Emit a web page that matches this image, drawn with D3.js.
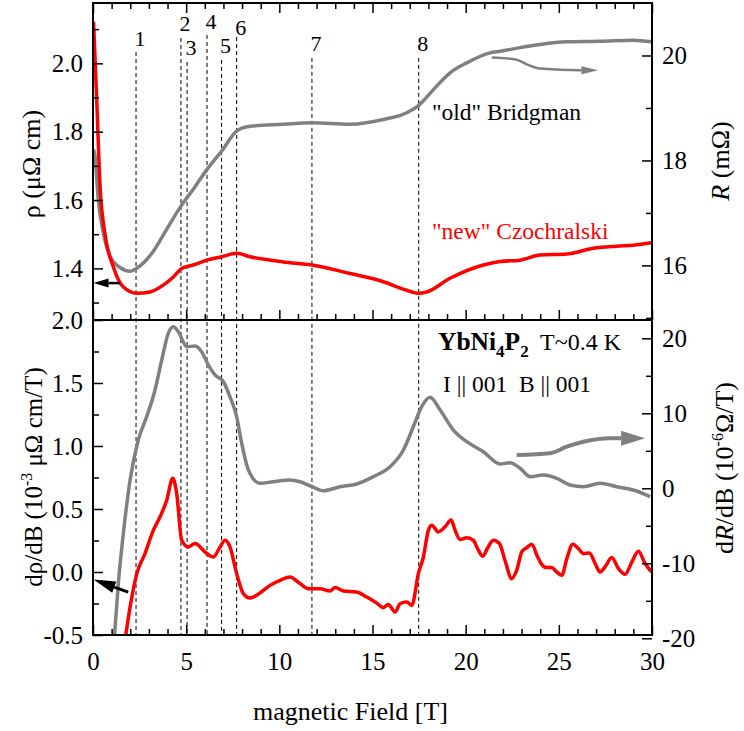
<!DOCTYPE html>
<html lang="en">
<head>
<meta charset="UTF-8">
<script src="https://cdn.jsdelivr.net/npm/d3@7"></script>
<title>YbNi4P2 resistivity vs field</title>
<style>
  body { margin: 0; background: #fff; }
  text { font-family: "Liberation Serif", "Times New Roman", serif; }
</style>
</head>
<body>
<script>
    // ---- data ----
    // top panel, "old" Bridgman sample, R (mOhm), right axis
    let oldTopB = [0.03, 0.11, 0.28, 0.55, 0.91, 1.45, 1.99, 2.52, 3.24, 3.96, 4.72, 5.38, 6.12, 6.91, 7.71, 8.43,
        10.21, 11.76, 13.8, 15.58, 16.84, 17.48, 18.27, 19.16, 20.06, 21.31, 21.85, 22.92, 23.99, 25.43, 27.21, 28.99, 29.99];
    let oldTopR = [18.21, 18.08, 17.26, 16.63, 16.18, 15.96, 15.89, 15.99, 16.27, 16.69, 17.13, 17.45, 17.83, 18.18, 18.56, 18.65,
        18.69, 18.72, 18.69, 18.78, 18.91, 19.05, 19.35, 19.67, 19.86, 20.05, 20.08, 20.15, 20.21, 20.26, 20.27, 20.29, 20.26];

    // top panel, "new" Czochralski sample, rho (uOhm cm), left axis
    let newTopB = [0.03, 0.2, 0.38, 0.64, 1.09, 1.62, 2.35, 3.06, 3.77, 4.31, 4.76, 5.38, 6.12, 6.91, 7.71, 8.43, 10.21,
        11.76, 13.8, 15.58, 16.84, 17.48, 17.91, 19.16, 20.95, 21.85, 22.92, 23.99, 25.43, 26.85, 28.11, 29.0, 29.99];
    let newTopRho = [2.121, 1.893, 1.639, 1.502, 1.405, 1.346, 1.327, 1.331, 1.351, 1.375, 1.4, 1.41, 1.424, 1.434, 1.444, 1.434, 1.419,
        1.41, 1.385, 1.361, 1.336, 1.327, 1.331, 1.371, 1.41, 1.42, 1.424, 1.439, 1.442, 1.459, 1.465, 1.468, 1.475];

    // bottom panel, dR/dB (1e-6 Ohm/T), right axis
    let oldBotB = [1.15, 1.36, 1.63, 1.99, 2.43, 2.88, 3.33, 3.69, 4.04, 4.31, 4.58, 5.03, 5.48, 5.83, 6.19, 6.55, 7.0, 7.35,
        7.71, 7.98, 8.34, 8.96, 9.68, 10.57, 11.11, 11.76, 12.36, 13.26, 14.15, 15.05, 15.94, 16.66, 17.19, 17.64, 18.09,
        18.63, 19.34, 20.06, 20.95, 21.85, 22.38, 22.92, 23.46, 24.17, 24.89, 25.6, 26.32, 27.21, 28.11, 29.0, 29.9];
    let oldBotV = [-19.8, -12.67, -6.0, 1.11, 6.44, 9.55, 13.11, 17.11, 20.67, 21.55, 20.88, 18.88, 18.97, 18.21, 16.44, 15.11, 14.21, 12.21,
        9.55, 6.0, 2.44, 0.67, 0.88, 1.11, 0.88, 0.21, -0.32, 0.21, 0.57, 1.55, 2.88, 5.11, 8.21, 10.88, 12.13,
        10.44, 7.77, 6.21, 4.88, 3.24, 3.41, 2.67, 1.55, 1.77, 1.33, 0.44, 0.21, 0.67, 0.21, -0.23, -1.12];

    // bottom panel, drho/dB (1e-3 uOhm cm/T), left axis
    let newBotB = [1.74, 1.99, 2.35, 2.79, 3.24, 3.6, 3.96, 4.28, 4.49, 4.76, 5.12, 5.48, 6.01, 6.46, 6.82, 7.09, 7.35, 7.71,
        8.07, 8.43, 8.96, 9.5, 10.04, 10.57, 11.11, 11.56, 12.18, 12.72, 12.99, 13.44, 14.15, 14.69, 15.23, 15.58, 15.85,
        16.21, 16.48, 16.84, 17.11, 17.46, 17.73, 18.0, 18.18, 18.53, 18.89, 19.22, 19.43, 19.7, 20.06, 20.41, 20.68,
        20.92, 21.16, 21.49, 21.81, 22.11, 22.47, 22.74, 23.01, 23.28, 23.55, 23.82, 24.08, 24.35, 24.62, 24.89, 25.16,
        25.43, 25.75, 26.05, 26.32, 26.64, 26.95, 27.21, 27.48, 27.84, 28.2, 28.56, 28.92, 29.27, 29.63, 29.9, 30.0];
    let newBotV = [-0.52, -0.279, -0.013, 0.146, 0.332, 0.438, 0.571, 0.744, 0.624, 0.252, 0.199, 0.226, 0.159, 0.119, 0.199, 0.252, 0.199, -0.013,
        -0.172, -0.207, -0.167, -0.106, -0.066, -0.04, -0.092, -0.132, -0.132, -0.151, -0.124, -0.151, -0.159, -0.199, -0.247, -0.283, -0.257,
        -0.318, -0.252, -0.239, -0.265, -0.013, 0.119, 0.332, 0.372, 0.318, 0.358, 0.412, 0.332, 0.258, 0.271, 0.252, 0.173,
        0.125, 0.186, 0.252, 0.226, 0.093, -0.053, 0.014, 0.159, 0.194, 0.221, 0.133, 0.061, 0.035, 0.035, 0.0, -0.026,
        0.107, 0.221, 0.186, 0.146, 0.151, 0.067, 0.0, 0.04, 0.115, 0.027, -0.018, 0.08, 0.165, 0.067, 0.014, 0.0];

    // transition fields marked by dashed lines
    let markerLabels = ["1", "2", "3", "4", "5", "6", "7", "8"];
    let markerB = [2.31, 4.72, 5.05, 6.12, 6.9, 7.71, 11.75, 17.48];
    let markerLabelRho = [2.051, 2.094, 2.024, 2.1, 2.03, 2.083, 2.036, 2.036];
    let markerTopRho = [2.033, 2.074, 2.004, 2.083, 2.01, 2.077, 2.016, 2.016];

    // ticks
    let xTicks = [0, 5, 10, 15, 20, 25, 30];
    let rhoTicks = [1.4, 1.6, 1.8, 2.0];
    let rhoMinor = [1.3, 1.5, 1.7, 1.9, 2.1];
    let rTicks = [16, 18, 20];
    let rMinor = [15, 17, 19];
    let dRhoTicks = [-0.5, 0.0, 0.5, 1.0, 1.5, 2.0];
    let dRhoMinor = [-0.25, 0.25, 0.75, 1.25, 1.75];
    let dRTicks = [-20, -10, 0, 10, 20];
    let dRMinor = [-15, -5, 5, 15];

    // ---- layout ----
    let W = 744, H = 731;
    let pLeft = 93, pRight = 652, pTop = 3, pMid = 320, pBottom = 635;
    let red = "#ff0000", gray = "#808080";

    let svg = d3.select("body").append("svg")
        .attr("width", W)
        .attr("height", H);

    let x = d3.scaleLinear().domain([0, 30]).range([pLeft, pRight]);
    let yRho = d3.scaleLinear().domain([1.249, 2.1765]).range([pMid, pTop]);
    let yR = d3.scaleLinear().domain([14.96, 21.0]).range([pMid, pTop]);
    let yDRho = d3.scaleLinear().domain([-0.5, 2.0]).range([pBottom, pMid]);
    let yDR = d3.scaleLinear().domain([-19.56, 22.44]).range([pBottom, pMid]);

    let xMinor = d3.range(0, 31).filter(d => d % 5 != 0);
    let fmt1 = d => d.toFixed(1);
    let fmt0 = d => String(d);

    // clip paths for both panels
    let defs = svg.append("defs");
    defs.append("clipPath").attr("id", "clipTop").append("rect")
        .attr("x", pLeft).attr("y", pTop).attr("width", pRight - pLeft).attr("height", pMid - pTop);
    defs.append("clipPath").attr("id", "clipBot").append("rect")
        .attr("x", pLeft).attr("y", pMid).attr("width", pRight - pLeft).attr("height", pBottom - pMid);

    // dashed marker lines
    markerB.forEach((b, i) => {
        svg.append("line")
            .attr("x1", x(b)).attr("x2", x(b))
            .attr("y1", yRho(markerTopRho[i])).attr("y2", pBottom)
            .attr("stroke", "#000")
            .attr("stroke-width", 1)
            .attr("stroke-dasharray", "4,3");
        svg.append("text")
            .attr("x", x(b) + 4)
            .attr("y", yRho(markerLabelRho[i]))
            .attr("text-anchor", "middle")
            .attr("font-size", 22)
            .text(markerLabels[i]);
    });

    // curves
    function drawCurve(xs, ys, yScale, color, clip) {
        let pts = xs.map((b, i) => [b, ys[i]]);
        let line = d3.line()
            .x(d => x(d[0]))
            .y(d => yScale(d[1]))
            .curve(d3.curveMonotoneX);
        svg.append("path")
            .datum(pts)
            .attr("clip-path", "url(#" + clip + ")")
            .attr("d", line)
            .attr("fill", "none")
            .attr("stroke", color)
            .attr("stroke-width", 3.5)
            .attr("stroke-linejoin", "round");
    }

    drawCurve(oldTopB, oldTopR, yR, gray, "clipTop");
    drawCurve(newTopB, newTopRho, yRho, red, "clipTop");
    drawCurve(oldBotB, oldBotV, yDR, gray, "clipBot");
    drawCurve(newBotB, newBotV, yDRho, red, "clipBot");

    // axes helper: major ticks + minor ticks, inward
    function addAxis(axisFn, scale, majors, minors, fmt, translate, showLabels, pad) {
        let g = svg.append("g").attr("transform", translate);
        g.call(axisFn(scale).tickValues(majors).tickSizeInner(-10).tickSizeOuter(0)
            .tickPadding(pad || 8)
            .tickFormat(showLabels ? fmt : ""));
        g.append("g").call(axisFn(scale).tickValues(minors).tickSizeInner(-6).tickSizeOuter(0).tickFormat(""));
        g.selectAll(".domain").remove();
        g.selectAll("line").attr("stroke", "#000").attr("stroke-width", 1.5);
        g.selectAll("text")
            .attr("font-size", 25)
            .attr("fill", "#000");
        return g;
    }

    // top panel axes
    addAxis(d3.axisTop, x, xTicks, xMinor, fmt0, "translate(0," + pTop + ")", false);
    addAxis(d3.axisBottom, x, xTicks, xMinor, fmt0, "translate(0," + pMid + ")", false);
    addAxis(d3.axisLeft, yRho, rhoTicks, rhoMinor, fmt1, "translate(" + pLeft + ",0)", true, 10);
    addAxis(d3.axisRight, yR, rTicks, rMinor, fmt0, "translate(" + pRight + ",0)", true, 10);

    // bottom panel axes
    addAxis(d3.axisBottom, x, xTicks, xMinor, fmt0, "translate(0," + pBottom + ")", true, 17);
    addAxis(d3.axisLeft, yDRho, dRhoTicks, dRhoMinor, fmt1, "translate(" + pLeft + ",0)", true, 10);
    addAxis(d3.axisRight, yDR, dRTicks, dRMinor, fmt0, "translate(" + pRight + ",0)", true, 10);

    // frames
    svg.append("rect")
        .attr("x", pLeft).attr("y", pTop).attr("width", pRight - pLeft).attr("height", pBottom - pTop)
        .attr("fill", "none").attr("stroke", "#000").attr("stroke-width", 2);
    svg.append("line")
        .attr("x1", pLeft).attr("x2", pRight).attr("y1", pMid).attr("y2", pMid)
        .attr("stroke", "#000").attr("stroke-width", 2);

    // arrows, given in data units of the axis they point to
    let arrowTopOldB = [21.4, 22.74, 23.28, 23.99, 26.14, 27.12];
    let arrowTopOldR = [19.96, 19.92, 19.83, 19.75, 19.72, 19.72];
    let arrowBotOldB = [22.74, 24.53, 25.43, 26.32, 27.75, 29.63];
    let arrowBotOldV = [4.44, 4.67, 5.55, 6.21, 6.67, 6.67];
    let arrowTopNewB = [1.45, 0.03];
    let arrowTopNewRho = [1.357, 1.357];
    let arrowBotNewB = [1.89, 0.03];
    let arrowBotNewV = [-0.16, -0.06];

    function drawArrow(xs, ys, yScale, color, width, headLen, headHalf) {
        let pts = xs.map((b, i) => [x(b), yScale(ys[i])]);
        let tip = pts[pts.length - 1];
        let prev = pts[pts.length - 2];
        let dx = tip[0] - prev[0], dy = tip[1] - prev[1];
        let len = Math.sqrt(dx * dx + dy * dy);
        let ux = dx / len, uy = dy / len;
        let base = [tip[0] - ux * headLen, tip[1] - uy * headLen];
        let shaft = pts.slice(0, pts.length - 1).concat([base]);
        svg.append("path")
            .datum(shaft)
            .attr("d", d3.line().curve(d3.curveMonotoneX))
            .attr("fill", "none")
            .attr("stroke", color)
            .attr("stroke-width", width);
        let p1 = [base[0] - uy * headHalf, base[1] + ux * headHalf];
        let p2 = [base[0] + uy * headHalf, base[1] - ux * headHalf];
        svg.append("path")
            .attr("d", "M" + tip + "L" + p1 + "L" + p2 + "Z")
            .attr("fill", color);
    }

    drawArrow(arrowTopOldB, arrowTopOldR, yR, gray, 2.5, 17, 4);
    drawArrow(arrowBotOldB, arrowBotOldV, yDR, gray, 4, 24, 7.5);
    drawArrow(arrowTopNewB, arrowTopNewRho, yRho, "#000", 2.5, 15, 4.5);
    drawArrow(arrowBotNewB, arrowBotNewV, yDRho, "#000", 3, 22, 6);

    // annotations
    svg.append("text")
        .attr("x", 432).attr("y", 120)
        .attr("font-size", 23.5)
        .text("\"old\" Bridgman");
    svg.append("text")
        .attr("x", 432).attr("y", 239)
        .attr("font-size", 23.5)
        .attr("fill", red)
        .text("\"new\" Czochralski");

    let formula = svg.append("text")
        .attr("x", 438).attr("y", 350)
        .attr("font-size", 25.5)
        .attr("font-weight", "bold");
    formula.append("tspan").text("YbNi");
    formula.append("tspan").attr("font-size", 17).attr("dy", 7).text("4");
    formula.append("tspan").attr("dy", -7).text("P");
    formula.append("tspan").attr("font-size", 17).attr("dy", 7).text("2");
    svg.append("text")
        .attr("x", 540).attr("y", 350)
        .attr("font-size", 24)
        .text("T~0.4 K");
    svg.append("text")
        .attr("x", 443).attr("y", 392)
        .attr("font-size", 23.5)
        .attr("xml:space", "preserve")
        .text("I || 001  B || 001");

    // axis titles
    svg.append("text")
        .attr("x", (pLeft + pRight) / 2 - 22).attr("y", 720)
        .attr("text-anchor", "middle")
        .attr("font-size", 26)
        .text("magnetic Field [T]");

    svg.append("text")
        .attr("transform", "translate(40,164) rotate(-90)")
        .attr("text-anchor", "middle")
        .attr("font-size", 26)
        .text("ρ (μΩ cm)");

    let t2 = svg.append("text")
        .attr("transform", "translate(42,477) rotate(-90)")
        .attr("text-anchor", "middle")
        .attr("font-size", 25);
    t2.append("tspan").text("dρ/dB (10");
    t2.append("tspan").attr("font-size", 16).attr("dy", -10).text("-3");
    t2.append("tspan").attr("dy", 10).text(" μΩ cm/T)");

    let t3 = svg.append("text")
        .attr("transform", "translate(729,161) rotate(-90)")
        .attr("text-anchor", "middle")
        .attr("font-size", 26);
    t3.append("tspan").attr("font-style", "italic").text("R");
    t3.append("tspan").text(" (mΩ)");

    let t4 = svg.append("text")
        .attr("transform", "translate(733,468) rotate(-90)")
        .attr("text-anchor", "middle")
        .attr("font-size", 26);
    t4.append("tspan").text("d");
    t4.append("tspan").attr("font-style", "italic").text("R");
    t4.append("tspan").text("/dB (10");
    t4.append("tspan").attr("font-size", 16).attr("dy", -10).text("-6");
    t4.append("tspan").attr("dy", 10).text("Ω/T)");
</script>
</body>
</html>
